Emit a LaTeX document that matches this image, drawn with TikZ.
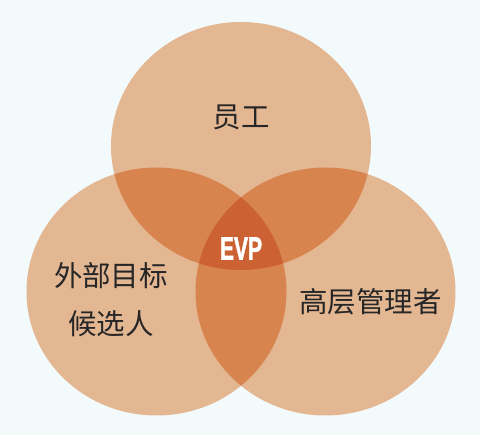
\documentclass[tikz,border=0pt]{standalone}
\usepackage{fontspec}
\newfontfamily\cjk{Noto Sans CJK SC}
\newfontfamily\evpfont[BoldFeatures={FakeBold=2}]{Liberation Sans}
\definecolor{bg}{HTML}{F2FAFC}
\definecolor{one}{HTML}{E4B793}
\definecolor{two}{HTML}{D7844F}
\definecolor{three}{HTML}{CC6233}
\definecolor{ink}{HTML}{262626}
\tikzset{
  lbl/.style={font=\cjk\fontsize{28.5}{48}\selectfont, text=ink, align=center, inner sep=0pt},
  evp/.style={font=\evpfont\bfseries\fontsize{32}{32}\selectfont, text=white, inner sep=0pt}
}
\begin{document}
\begin{tikzpicture}[x=1pt,y=-1pt]
\fill[bg] (0,0) rectangle (480,435);
\useasboundingbox (0,0) rectangle (480,435);
\def\top{(241,146) ellipse [x radius=130pt, y radius=124pt]}
\def\lft{(156.5,291.5) ellipse [x radius=130pt, y radius=124pt]}
\def\rgt{(325.5,291.5) ellipse [x radius=130pt, y radius=124pt]}
% single
\fill[one] \top;
\fill[one] \lft;
\fill[one] \rgt;
% pairs
\begin{scope}\clip \top; \fill[two] \lft; \fill[two] \rgt;\end{scope}
\begin{scope}\clip \lft; \fill[two] \rgt;\end{scope}
% triple
\begin{scope}\clip \top; \clip \lft; \fill[three] \rgt;\end{scope}
% labels
\node[lbl] (emp) at (241,117) {员工};
\node[lbl] (ext) at (111,300) {外部目标\\候选人};
\node[lbl] (mgr) at (370.5,302) {高层管理者};
\node[evp] (evp) at (241,248.5) {\scalebox{0.66}[1]{EVP}};
\end{tikzpicture}
\end{document}
